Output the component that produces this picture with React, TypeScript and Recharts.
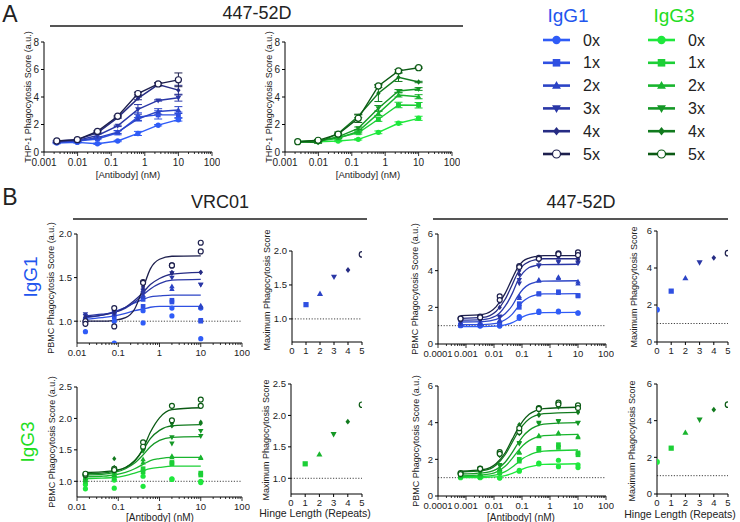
import React from 'react';
import { ComposedChart, Line, Scatter, XAxis, YAxis, ReferenceLine, ErrorBar } from 'recharts';

const FONT = '"Liberation Sans", Arial, Helvetica, sans-serif';

// groups / styling
const GROUPS = ['0x', '1x', '2x', '3x', '4x', '5x'];
const SHAPES = ['circle', 'square', 'triangle', 'tridown', 'diamond', 'open'];
const IGG1_COLORS = ['#2f5cf7', '#2f50e2', '#2c44c6', '#2a37a6', '#262c84', '#1d1f4d'];
const IGG3_COLORS = ['#1ee83c', '#1ccf36', '#19b52e', '#159826', '#117a1e', '#0b5a14'];
const IGG1_TITLE = '#2255ee';
const IGG3_TITLE = '#22dd22';

// panel A - THP-1
const A_DOSES = [0.0024, 0.0098, 0.039, 0.156, 0.625, 2.5, 10];
const A_XMAJOR = [0.001, 0.01, 0.1, 1, 10, 100];
const A_YTICKS = [0, 2, 4, 6, 8];
const A_IGG1 = [
  [0.65, 0.7, 0.6, 0.8, 1.35, 1.95, 2.35],
  [0.75, 0.8, 0.95, 1.4, 2.55, 2.7, 2.7],
  [0.7, 0.8, 1.05, 1.45, 2.4, 2.95, 3.05],
  [0.75, 0.85, 1.2, 1.9, 3.1, 3.75, 3.95],
  [0.8, 0.9, 1.4, 2.5, 3.9, 4.9, 4.5],
  [0.8, 0.9, 1.5, 2.6, 4.25, 4.95, 5.25],
];
const A_IGG1_ERR = [
  [0.05, 0.05, 0.05, 0.05, 0.15, 0.05, 0.1],
  [0.08, 0.05, 0.05, 0.15, 0.3, 0.3, 0.2],
  [0.05, 0.05, 0.05, 0.1, 0.1, 0.2, 0.25],
  [0.05, 0.05, 0.1, 0.05, 0.35, 0.05, 0.25],
  [0, 0, 0.05, 0.05, 0.1, 0.1, 0.35],
  [0, 0, 0.05, 0.05, 0.1, 0.1, 0.5],
];
const A_IGG3 = [
  [0.75, 0.75, 0.8, 0.92, 1.43, 2.09, 2.45],
  [0.75, 0.8, 1.05, 1.4, 2.38, 3.42, 3.4],
  [0.75, 0.8, 1.0, 1.5, 2.81, 4.15, 4.02],
  [0.75, 0.8, 1.1, 1.72, 3.18, 4.44, 4.58],
  [0.75, 0.68, 1.35, 2.6, 4.27, 5.43, 5.09],
  [0.75, 0.85, 1.3, 2.45, 4.8, 5.9, 6.13],
];
const A_IGG3_ERR = [
  [0, 0.05, 0.05, 0.05, 0.1, 0.1, 0.15],
  [0, 0.05, 0.05, 0.1, 0.15, 0.2, 0.2],
  [0, 0.05, 0.05, 0.1, 0.15, 0.15, 0.15],
  [0, 0.05, 0.1, 0.1, 0.2, 0.1, 0.1],
  [0, 0.05, 0.1, 0.1, 0.6, 0.3, 0.05],
  [0, 0.05, 0.05, 0.3, 0.1, 0.1, 0.05],
];

// panel B - PBMC, VRC01
const VRC_DOSES = [0.016, 0.08, 0.4, 2, 10];
const VRC_XMAJOR = [0.01, 0.1, 1, 10, 100];
const VRC_CURVE_X = [0.016, 0.04, 0.08, 0.15, 0.25, 0.4, 0.6, 1, 2, 10];
const VRC_IGG1_PTS = [
  [[0.88, 0.75, 1.12, 1.15, 1.15], [1.0, 1.0, 0.98, 1.06, 0.8]],
  [[1.02, 1.05, 1.25, 1.24, 1.01], [1.0, 1.1, 1.17, 1.22, 1.0]],
  [[1.05, 1.08, 1.3, 1.4, 1.18], [1.03, 1.12, 1.28, 1.37, 1.16]],
  [[1.08, 1.1, 1.35, 1.55, 1.42], [1.06, 1.08, 1.32, 1.5, 1.42]],
  [[1.05, 1.13, 1.4, 1.56, 1.56], [1.04, 1.1, 1.38, 1.55, 1.56]],
  [[1.0, 1.15, 1.45, 1.64, 1.9], [0.97, 0.94, 1.44, 1.64, 1.8]],
];
const VRC_IGG1_CURVES = [
  null,
  [1.02, 1.04, 1.06, 1.09, 1.12, 1.14, 1.16, 1.17, 1.17, 1.17],
  [1.04, 1.07, 1.11, 1.16, 1.21, 1.25, 1.28, 1.29, 1.3, 1.3],
  [1.06, 1.08, 1.1, 1.15, 1.22, 1.3, 1.37, 1.43, 1.47, 1.48],
  [1.05, 1.07, 1.1, 1.16, 1.24, 1.33, 1.42, 1.49, 1.54, 1.56],
  [1.0, 1.0, 1.01, 1.04, 1.14, 1.38, 1.6, 1.71, 1.745, 1.75],
];
const VRC_IGG3_PTS = [
  [[0.88, 0.89, 0.92, 1.03, 0.98], [0.95, 1.02, 1.08, 1.04, 1.0]],
  [[1.0, 1.05, 1.15, 1.3, 1.13], [1.05, 1.1, 1.2, 1.28, 1.1]],
  [[1.05, 1.1, 1.35, 1.4, 1.37], [1.02, 1.15, 1.3, 1.38, 1.38]],
  [[1.08, 1.2, 1.5, 1.7, 1.72], [1.06, 1.15, 1.48, 1.6, 1.8]],
  [[1.1, 1.36, 1.55, 1.88, 1.94], [1.08, 1.22, 1.52, 1.92, 1.92]],
  [[1.1, 1.2, 1.62, 2.2, 2.3], [1.12, 1.18, 1.55, 1.97, 2.2]],
];
const VRC_IGG3_CURVES = [
  null,
  [1.04, 1.05, 1.06, 1.09, 1.13, 1.17, 1.2, 1.22, 1.24, 1.24],
  [1.07, 1.08, 1.1, 1.14, 1.2, 1.27, 1.33, 1.36, 1.38, 1.38],
  [1.1, 1.11, 1.14, 1.2, 1.29, 1.42, 1.55, 1.65, 1.7, 1.71],
  [1.12, 1.13, 1.16, 1.22, 1.33, 1.5, 1.68, 1.81, 1.88, 1.9],
  [1.14, 1.15, 1.17, 1.22, 1.32, 1.52, 1.78, 2.01, 2.14, 2.17],
];

// panel B - PBMC, 447-52D
const E447_DOSES = [0.00064, 0.0032, 0.016, 0.08, 0.4, 2, 10];
const E447_XMAJOR = [0.0001, 0.001, 0.01, 0.1, 1, 10, 100];
const E447_CURVE_X = [0.00064, 0.004, 0.012, 0.025, 0.045, 0.07, 0.11, 0.18, 0.3, 0.6, 10];
const E447_IGG1_PTS = [
  [[1.0, 1.0, 1.0, 1.4, 1.8, 1.8, 1.7], [1.05, 0.98, 0.98, 1.5, 1.72, 1.75, 1.68]],
  [[1.05, 1.05, 1.1, 2.0, 2.75, 2.85, 2.65], [1.02, 1.03, 1.05, 2.2, 2.72, 2.8, 2.62]],
  [[1.1, 1.15, 1.3, 2.6, 3.5, 3.65, 3.3], [1.08, 1.12, 1.25, 2.5, 3.45, 3.6, 3.4]],
  [[1.2, 1.3, 1.5, 3.3, 4.3, 4.5, 4.45], [1.18, 1.28, 1.45, 3.5, 4.25, 4.45, 4.4]],
  [[1.3, 1.4, 2.3, 4.0, 4.6, 4.8, 4.6], [1.28, 1.38, 2.0, 3.8, 4.55, 4.75, 4.65]],
  [[1.4, 1.5, 2.6, 4.25, 4.7, 4.95, 5.0], [1.38, 1.45, 2.4, 4.2, 4.65, 4.9, 4.85]],
];
const E447_IGG1_CURVES = [
  [0.95, 0.95, 0.97, 1.04, 1.17, 1.32, 1.49, 1.61, 1.67, 1.71, 1.72],
  [1.05, 1.06, 1.12, 1.32, 1.63, 1.99, 2.33, 2.55, 2.67, 2.73, 2.75],
  [1.2, 1.22, 1.34, 1.65, 2.1, 2.6, 3.0, 3.25, 3.37, 3.43, 3.45],
  [1.3, 1.33, 1.54, 2.06, 2.76, 3.44, 3.89, 4.17, 4.27, 4.33, 4.35],
  [1.4, 1.45, 1.79, 2.44, 3.25, 3.87, 4.29, 4.49, 4.59, 4.65, 4.65],
  [1.55, 1.62, 2.04, 2.76, 3.58, 4.17, 4.53, 4.69, 4.77, 4.82, 4.82],
];
const E447_IGG3_PTS = [
  [[1.0, 1.0, 1.0, 1.4, 1.8, 1.95, 1.7], [1.05, 1.02, 0.98, 1.35, 1.75, 1.6, 1.55]],
  [[1.05, 1.1, 1.3, 2.0, 2.6, 2.8, 2.35], [1.08, 1.05, 1.25, 1.9, 2.5, 2.65, 2.25]],
  [[1.1, 1.2, 1.5, 2.4, 3.3, 3.4, 3.2], [1.12, 1.18, 1.45, 2.35, 3.25, 3.45, 3.25]],
  [[1.15, 1.3, 1.7, 2.9, 4.0, 4.1, 4.0], [1.18, 1.28, 1.65, 2.85, 3.95, 4.05, 3.98]],
  [[1.2, 1.45, 2.2, 3.9, 4.4, 4.9, 4.6], [1.22, 1.4, 2.3, 3.4, 4.45, 4.85, 4.55]],
  [[1.25, 1.5, 2.4, 3.5, 4.8, 5.1, 4.95], [1.2, 1.48, 2.3, 3.7, 4.75, 5.0, 4.8]],
];
const E447_IGG3_CURVES = [
  [1.0, 1.01, 1.04, 1.11, 1.23, 1.35, 1.48, 1.59, 1.66, 1.72, 1.76],
  [1.05, 1.07, 1.15, 1.33, 1.58, 1.82, 2.06, 2.23, 2.36, 2.45, 2.51],
  [1.1, 1.15, 1.3, 1.62, 2.05, 2.43, 2.77, 3.02, 3.18, 3.29, 3.36],
  [1.2, 1.26, 1.45, 1.84, 2.38, 2.85, 3.27, 3.58, 3.78, 3.92, 4.0],
  [1.31, 1.38, 1.69, 2.25, 2.93, 3.45, 3.88, 4.2, 4.38, 4.49, 4.56],
  [1.36, 1.44, 1.77, 2.36, 3.1, 3.65, 4.11, 4.46, 4.65, 4.77, 4.84],
];

// max phagocytosis vs hinge length
const HINGE = [0, 1, 2, 3, 4, 5];
const MAX_VRC_IGG1 = [null, 1.21, 1.37, 1.62, 1.72, 1.95];
const MAX_VRC_IGG3 = [null, 1.23, 1.38, 1.7, 1.9, 2.17];
const MAX_447_IGG1 = [1.75, 2.75, 3.45, 4.3, 4.55, 4.8];
const MAX_447_IGG3 = [1.75, 2.5, 3.35, 4.05, 4.6, 4.87];

const YW = 36, MT = 8, MR = 8, XH = 26;

const place = (b: any) => ({
  left: b.x0 - YW,
  top: b.y0 - MT,
  width: b.x1 - b.x0 + YW + MR,
  height: b.y1 - b.y0 + MT + XH,
});

const withMinor = (majors: number[]) => {
  const out: number[] = [];
  majors.forEach((m, i) => {
    out.push(m);
    if (i < majors.length - 1) for (let k = 2; k <= 9; k++) out.push(m * k);
  });
  return out;
};

function Marker({ kind, cx, cy, s, color }: any) {
  if (cx == null || cy == null) return null;
  switch (kind) {
    case 'circle':
      return <circle cx={cx} cy={cy} r={s} fill={color} />;
    case 'square':
      return <rect x={cx - s * 0.9} y={cy - s * 0.9} width={s * 1.8} height={s * 1.8} fill={color} />;
    case 'triangle':
      return <polygon points={`${cx},${cy - s * 1.1} ${cx + s * 1.05},${cy + s * 0.75} ${cx - s * 1.05},${cy + s * 0.75}`} fill={color} />;
    case 'tridown':
      return <polygon points={`${cx},${cy + s * 1.1} ${cx + s * 1.05},${cy - s * 0.75} ${cx - s * 1.05},${cy - s * 0.75}`} fill={color} />;
    case 'diamond':
      return <polygon points={`${cx},${cy - s} ${cx + s * 0.8},${cy} ${cx},${cy + s} ${cx - s * 0.8},${cy}`} fill={color} />;
    default:
      return <circle cx={cx} cy={cy} r={s * 0.95} fill="#fff" stroke={color} strokeWidth={1.2} />;
  }
}

const logTick = (majors: number[], fs: number) => (p: any) => {
  const v = p.payload.value;
  const major = majors.some((m) => Math.abs(m - v) / m < 1e-6);
  return (
    <g>
      <line x1={p.x} x2={p.x} y1={p.y} y2={p.y + (major ? 4 : 2)} stroke="#000" strokeWidth={0.8} />
      {major && (
        <text x={p.x} y={p.y + 4 + fs * 0.95} textAnchor="middle" fontSize={fs} fontFamily={FONT} fill="#222">
          {String(v)}
        </text>
      )}
    </g>
  );
};

const yTickStyle = (fs: number) => ({ fontSize: fs, fill: '#222', fontFamily: FONT });

function Txt({ x, y, size, color = '#222', rot = false, children }: any) {
  return (
    <div
      style={{
        position: 'absolute', left: x, top: y, fontSize: size, color, lineHeight: 1.1,
        whiteSpace: 'nowrap', fontFamily: FONT,
        transform: `translate(-50%, -50%)${rot ? ' rotate(-90deg)' : ''}`,
      }}
    >
      {children}
    </div>
  );
}

function Rule({ x0, x1, y }: any) {
  return <div style={{ position: 'absolute', left: x0, top: y, width: x1 - x0, height: 2, background: '#555' }} />;
}

function ThpChart({ box, values, errs, colors }: any) {
  const { left, top, width, height } = place(box);
  return (
    <div style={{ position: 'absolute', left, top }}>
      <ComposedChart width={width} height={height} margin={{ top: MT, right: MR, bottom: 0, left: 0 }}>
        <XAxis dataKey="x" type="number" scale="log" domain={[0.001, 100]} ticks={withMinor(A_XMAJOR)} interval={0}
          tick={logTick(A_XMAJOR, 10)} tickLine={false} tickSize={0} tickMargin={0} axisLine={{ stroke: '#000' }}
          height={XH} allowDataOverflow />
        <YAxis dataKey="y" type="number" domain={[0, 8]} ticks={A_YTICKS} width={YW} tickSize={3} tickMargin={2}
          tick={yTickStyle(10)} axisLine={{ stroke: '#000' }} tickLine={{ stroke: '#000' }} allowDataOverflow />
        {values.map((vals: number[], i: number) => (
          <Line key={i} data={A_DOSES.map((d, j) => ({ x: d, y: vals[j], e: errs[i][j] }))} dataKey="y"
            type="linear" stroke={colors[i]} strokeWidth={1.4} isAnimationActive={false}
            dot={(p: any) => <Marker key={`d${i}-${p.index}`} kind={SHAPES[i]} cx={p.cx} cy={p.cy} s={i === 5 ? 3.2 : 2.7} color={colors[i]} />}>
            <ErrorBar dataKey="e" width={4} stroke={colors[i]} strokeWidth={1} direction="y" />
          </Line>
        ))}
      </ComposedChart>
    </div>
  );
}

function PbmcCurve({ box, xMajor, yDomain, yTicks, yFmt, doses, reps, curveX, curves, colors }: any) {
  const { left, top, width, height } = place(box);
  return (
    <div style={{ position: 'absolute', left, top }}>
      <ComposedChart width={width} height={height} margin={{ top: MT, right: MR, bottom: 0, left: 0 }}>
        <XAxis dataKey="x" type="number" scale="log" domain={[xMajor[0], xMajor[xMajor.length - 1]]}
          ticks={withMinor(xMajor)} interval={0} tick={logTick(xMajor, 9.5)} tickLine={false} tickSize={0}
          tickMargin={0} axisLine={{ stroke: '#000' }} height={XH} allowDataOverflow />
        <YAxis dataKey="y" type="number" domain={yDomain} ticks={yTicks} tickFormatter={yFmt} width={YW}
          tickSize={3} tickMargin={2} tick={yTickStyle(9.5)} axisLine={{ stroke: '#000' }}
          tickLine={{ stroke: '#000' }} allowDataOverflow />
        <ReferenceLine y={1} stroke="#444" strokeDasharray="1.2 1.6" />
        {curves.map((c: number[] | null, i: number) =>
          c ? (
            <Line key={`c${i}`} data={curveX.map((x: number, j: number) => ({ x, y: c[j] }))} dataKey="y"
              type="monotone" stroke={colors[i]} strokeWidth={1.3} dot={false} isAnimationActive={false} />
          ) : null
        )}
        {reps.map((r: number[][], i: number) => (
          <Scatter key={`s${i}`} data={r.flatMap((rep) => doses.map((d: number, j: number) => ({ x: d, y: rep[j] })))}
            isAnimationActive={false}
            shape={(p: any) => <Marker kind={SHAPES[i]} cx={p.cx} cy={p.cy} s={2.6} color={colors[i]} />} />
        ))}
      </ComposedChart>
    </div>
  );
}

function MaxChart({ box, yDomain, yTicks, yFmt, values, colors }: any) {
  const { left, top, width, height } = place(box);
  return (
    <div style={{ position: 'absolute', left, top }}>
      <ComposedChart width={width} height={height} margin={{ top: MT, right: MR, bottom: 0, left: 0 }}>
        <XAxis dataKey="x" type="number" domain={[0, 5]} ticks={HINGE} interval={0} tickSize={3} tickMargin={2}
          tick={yTickStyle(9.5)} axisLine={{ stroke: '#000' }} tickLine={{ stroke: '#000' }} height={XH} allowDataOverflow />
        <YAxis dataKey="y" type="number" domain={yDomain} ticks={yTicks} tickFormatter={yFmt} width={YW}
          tickSize={3} tickMargin={2} tick={yTickStyle(9.5)} axisLine={{ stroke: '#000' }}
          tickLine={{ stroke: '#000' }} allowDataOverflow />
        <ReferenceLine y={1} stroke="#444" strokeDasharray="1.2 1.6" />
        {values.map((v: number | null, i: number) =>
          v == null ? null : (
            <Scatter key={i} data={[{ x: HINGE[i], y: v }]} isAnimationActive={false}
              shape={(p: any) => <Marker kind={SHAPES[i]} cx={p.cx} cy={p.cy} s={2.9} color={colors[i]} />} />
          )
        )}
      </ComposedChart>
    </div>
  );
}

function LegendCol({ title, titleX, lx, colors, color }: any) {
  const rows = GROUPS.map((g, i) => ({ g, y: 40 + i * 22.8 - 28 }));
  return (
    <>
      <Txt x={titleX} y={16} size={19} color={color}>{title}</Txt>
      <svg style={{ position: 'absolute', left: lx, top: 28 }} width={60} height={140}>
        {rows.map((r, i) => (
          <g key={i}>
            <line x1={0} x2={27} y1={r.y} y2={r.y} stroke={colors[i]} strokeWidth={2.6} />
            <Marker kind={SHAPES[i]} cx={13.5} cy={r.y} s={4.2} color={colors[i]} />
            <text x={40} y={r.y + 5.5} fontSize={16} fontFamily={FONT} fill="#222">{r.g}</text>
          </g>
        ))}
      </svg>
    </>
  );
}

const fmt1 = (v: number) => v.toFixed(1);
const fmt0 = (v: number) => String(v);

export default function App() {
  const THP_TITLE = 'THP-1 Phagocytosis Score (a.u.)';
  const PBMC_TITLE = 'PBMC Phagocytosis Score (a.u.)';
  const MAX_TITLE = 'Maximum Phagocytosis Score';
  const X_TITLE = '[Antibody] (nM)';
  const H_TITLE = 'Hinge Length (Repeats)';
  return (
    <div style={{ position: 'absolute', left: 0, top: 0, width: 740, height: 522, background: '#fff', fontFamily: FONT, overflow: 'hidden' }}>
      {/* panel A */}
      <Txt x={10} y={15} size={23}>A</Txt>
      <Txt x={257} y={14} size={18}>447-52D</Txt>
      <Rule x0={50} x1={463} y={25} />
      <ThpChart box={{ x0: 44, x1: 212, y0: 42, y1: 152 }} values={A_IGG1} errs={A_IGG1_ERR} colors={IGG1_COLORS} />
      <ThpChart box={{ x0: 285, x1: 452, y0: 42, y1: 152 }} values={A_IGG3} errs={A_IGG3_ERR} colors={IGG3_COLORS} />
      <Txt x={29} y={97} size={9} rot>{THP_TITLE}</Txt>
      <Txt x={270} y={97} size={9} rot>{THP_TITLE}</Txt>
      <Txt x={128} y={175} size={9.5}>{X_TITLE}</Txt>
      <Txt x={368} y={175} size={9.5}>{X_TITLE}</Txt>
      <LegendCol title="IgG1" titleX={568} lx={543} colors={IGG1_COLORS} color={IGG1_TITLE} />
      <LegendCol title="IgG3" titleX={674} lx={648} colors={IGG3_COLORS} color={IGG3_TITLE} />

      {/* panel B */}
      <Txt x={10} y={198} size={23}>B</Txt>
      <Txt x={220} y={203} size={18}>VRC01</Txt>
      <Rule x0={73} x1={367} y={218} />
      <Txt x={581} y={203} size={18}>447-52D</Txt>
      <Rule x0={433} x1={728} y={218} />
      <Txt x={31} y={277} size={19} color={IGG1_TITLE} rot>IgG1</Txt>
      <Txt x={28} y={442} size={19} color={IGG3_TITLE} rot>IgG3</Txt>

      <PbmcCurve box={{ x0: 77, x1: 242, y0: 234, y1: 343 }} xMajor={VRC_XMAJOR} yDomain={[0.75, 2]} yTicks={[1, 1.5, 2]}
        yFmt={fmt1} doses={VRC_DOSES} reps={VRC_IGG1_PTS} curveX={VRC_CURVE_X} curves={VRC_IGG1_CURVES} colors={IGG1_COLORS} />
      <MaxChart box={{ x0: 292, x1: 362, y0: 251, y1: 342 }} yDomain={[0.66, 2]} yTicks={[1, 1.5, 2]} yFmt={fmt1}
        values={MAX_VRC_IGG1} colors={IGG1_COLORS} />
      <PbmcCurve box={{ x0: 438, x1: 606, y0: 234, y1: 344 }} xMajor={E447_XMAJOR} yDomain={[0, 6]} yTicks={[0, 2, 4, 6]}
        yFmt={fmt0} doses={E447_DOSES} reps={E447_IGG1_PTS} curveX={E447_CURVE_X} curves={E447_IGG1_CURVES} colors={IGG1_COLORS} />
      <MaxChart box={{ x0: 657, x1: 728, y0: 231, y1: 342 }} yDomain={[0, 6]} yTicks={[0, 2, 4, 6]} yFmt={fmt0}
        values={MAX_447_IGG1} colors={IGG1_COLORS} />

      <PbmcCurve box={{ x0: 77, x1: 242, y0: 387, y1: 497 }} xMajor={VRC_XMAJOR} yDomain={[0.75, 2.5]} yTicks={[1, 1.5, 2, 2.5]}
        yFmt={fmt1} doses={VRC_DOSES} reps={VRC_IGG3_PTS} curveX={VRC_CURVE_X} curves={VRC_IGG3_CURVES} colors={IGG3_COLORS} />
      <MaxChart box={{ x0: 291, x1: 362, y0: 384, y1: 494 }} yDomain={[0.75, 2.5]} yTicks={[1, 1.5, 2, 2.5]} yFmt={fmt1}
        values={MAX_VRC_IGG3} colors={IGG3_COLORS} />
      <PbmcCurve box={{ x0: 438, x1: 606, y0: 386, y1: 496 }} xMajor={E447_XMAJOR} yDomain={[0, 6]} yTicks={[0, 2, 4, 6]}
        yFmt={fmt0} doses={E447_DOSES} reps={E447_IGG3_PTS} curveX={E447_CURVE_X} curves={E447_IGG3_CURVES} colors={IGG3_COLORS} />
      <MaxChart box={{ x0: 657, x1: 728, y0: 384, y1: 494 }} yDomain={[0, 6]} yTicks={[0, 2, 4, 6]} yFmt={fmt0}
        values={MAX_447_IGG3} colors={IGG3_COLORS} />

      <Txt x={52} y={288} size={9} rot>{PBMC_TITLE}</Txt>
      <Txt x={416} y={289} size={9} rot>{PBMC_TITLE}</Txt>
      <Txt x={53} y={442} size={9} rot>{PBMC_TITLE}</Txt>
      <Txt x={417} y={441} size={9} rot>{PBMC_TITLE}</Txt>
      <Txt x={268} y={290} size={9} rot>{MAX_TITLE}</Txt>
      <Txt x={635} y={287} size={9} rot>{MAX_TITLE}</Txt>
      <Txt x={267} y={440} size={9} rot>{MAX_TITLE}</Txt>
      <Txt x={633} y={441} size={9} rot>{MAX_TITLE}</Txt>
      <Txt x={160} y={517} size={10}>{X_TITLE}</Txt>
      <Txt x={521} y={517} size={10}>{X_TITLE}</Txt>
      <Txt x={315} y={514} size={10.5}>{H_TITLE}</Txt>
      <Txt x={680} y={515} size={10.5}>{H_TITLE}</Txt>
    </div>
  );
}
